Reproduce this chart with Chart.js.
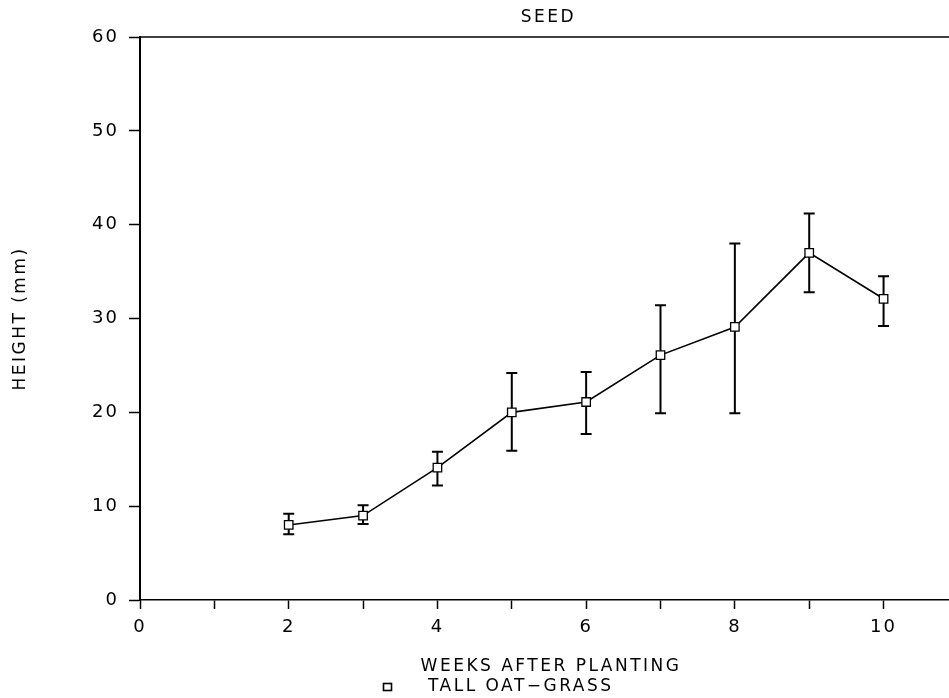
<!DOCTYPE html>
<html>
<head>
<meta charset="utf-8">
<script src="https://cdn.jsdelivr.net/npm/chart.js@4/dist/chart.umd.min.js"></script>
<style>
  html, body { margin: 0; padding: 0; background: #fff; }
  #wrap { width: 949px; height: 698px; }
</style>
</head>
<body>
<div id="wrap"><canvas id="seedChart" width="949" height="698"></canvas></div>
<script>
// data
const weeks = [2, 3, 4, 5, 6, 7, 8, 9, 10];
const heights = [8, 9, 14.1, 20, 21.1, 26.1, 29.1, 37, 32.1];
const errTop = [9.2, 10.1, 15.8, 24.2, 24.3, 31.4, 38, 41.2, 34.5];
const errBottom = [7, 8.1, 12.2, 15.9, 17.7, 19.9, 19.9, 32.8, 29.2];

const titleText = 'SEED';
const xTitle = 'WEEKS AFTER PLANTING';
const yTitle = 'HEIGHT (mm)';
const seriesName = 'TALL OAT\u2212GRASS';

const FONT = 'DejaVu Sans';
const INK = '#000';

// error bars, drawn before the points so the squares sit on top
const errorBars = {
  id: 'errorBars',
  beforeDatasetsDraw(chart) {
    const { ctx, scales } = chart;
    ctx.save();
    ctx.strokeStyle = INK;
    ctx.lineWidth = 2;
    weeks.forEach((w, i) => {
      const x = scales.x.getPixelForValue(w);
      const yt = scales.y.getPixelForValue(errTop[i]);
      const yb = scales.y.getPixelForValue(errBottom[i]);
      ctx.beginPath();
      ctx.moveTo(x, yt); ctx.lineTo(x, yb);
      ctx.moveTo(x - 5.5, yt); ctx.lineTo(x + 5.5, yt);
      ctx.moveTo(x - 5.5, yb); ctx.lineTo(x + 5.5, yb);
      ctx.stroke();
    });
    ctx.restore();
  }
};

// frame top line, titles and the little legend under the x title
const decorations = {
  id: 'decorations',
  beforeDraw(chart) {
    chart.ctx.letterSpacing = '2px';
  },
  afterDraw(chart) {
    const { ctx, chartArea } = chart;
    ctx.save();
    ctx.strokeStyle = INK;
    ctx.lineWidth = 1.5;
    ctx.beginPath();
    ctx.moveTo(chartArea.left, chartArea.top);
    ctx.lineTo(chartArea.right, chartArea.top);
    ctx.stroke();

    ctx.fillStyle = INK;
    ctx.letterSpacing = '2.5px';
    ctx.font = '17px "' + FONT + '"';
    ctx.textBaseline = 'middle';
    ctx.textAlign = 'center';
    ctx.fillText(titleText, (chartArea.left + chartArea.right) / 2 + 4, 18);

    ctx.fillText(xTitle, 551, 667);

    ctx.textAlign = 'left';
    ctx.fillText(seriesName, 428, 687);
    ctx.lineWidth = 1.6;
    ctx.strokeRect(383.5, 683.5, 8, 7);

    ctx.translate(21, (chartArea.top + chartArea.bottom) / 2);
    ctx.rotate(-Math.PI / 2);
    ctx.textAlign = 'center';
    ctx.fillText(yTitle, 0, 0);
    ctx.restore();
  }
};

new Chart(document.getElementById('seedChart'), {
  type: 'line',
  data: {
    datasets: [{
      label: seriesName,
      data: weeks.map((w, i) => ({ x: w, y: heights[i] })),
      borderColor: INK,
      borderWidth: 1.6,
      tension: 0,
      fill: false,
      pointStyle: 'rect',
      pointRadius: 6,
      pointBackgroundColor: '#fff',
      pointBorderColor: INK,
      pointBorderWidth: 1.3
    }]
  },
  options: {
    responsive: false,
    animation: false,
    layout: { autoPadding: false, padding: { top: 37, right: 0, bottom: 0, left: 0 } },
    plugins: {
      legend: { display: false },
      tooltip: { enabled: false }
    },
    scales: {
      x: {
        type: 'linear',
        min: 0,
        max: 10.88,
        afterFit: (scale) => { scale.height = 98; },
        ticks: {
          stepSize: 1,
          includeBounds: false,
          autoSkip: false,
          maxRotation: 0,
          padding: 8,
          color: INK,
          font: { family: FONT, size: 18 },
          callback: (v) => (v % 2 === 0 ? String(v) : '')
        },
        grid: {
          drawOnChartArea: false,
          drawTicks: true,
          tickLength: 9,
          tickColor: INK,
          tickWidth: 1.5
        },
        border: { display: true, color: INK, width: 1.5 }
      },
      y: {
        min: 0,
        max: 60,
        afterFit: (scale) => { scale.width = 140; },
        ticks: {
          stepSize: 10,
          padding: 10,
          color: INK,
          font: { family: FONT, size: 18 }
        },
        grid: {
          drawOnChartArea: false,
          drawTicks: true,
          tickLength: 11,
          tickColor: INK,
          tickWidth: 1.5
        },
        border: { display: true, color: INK, width: 2 }
      }
    }
  },
  plugins: [errorBars, decorations]
});
</script>
</body>
</html>
